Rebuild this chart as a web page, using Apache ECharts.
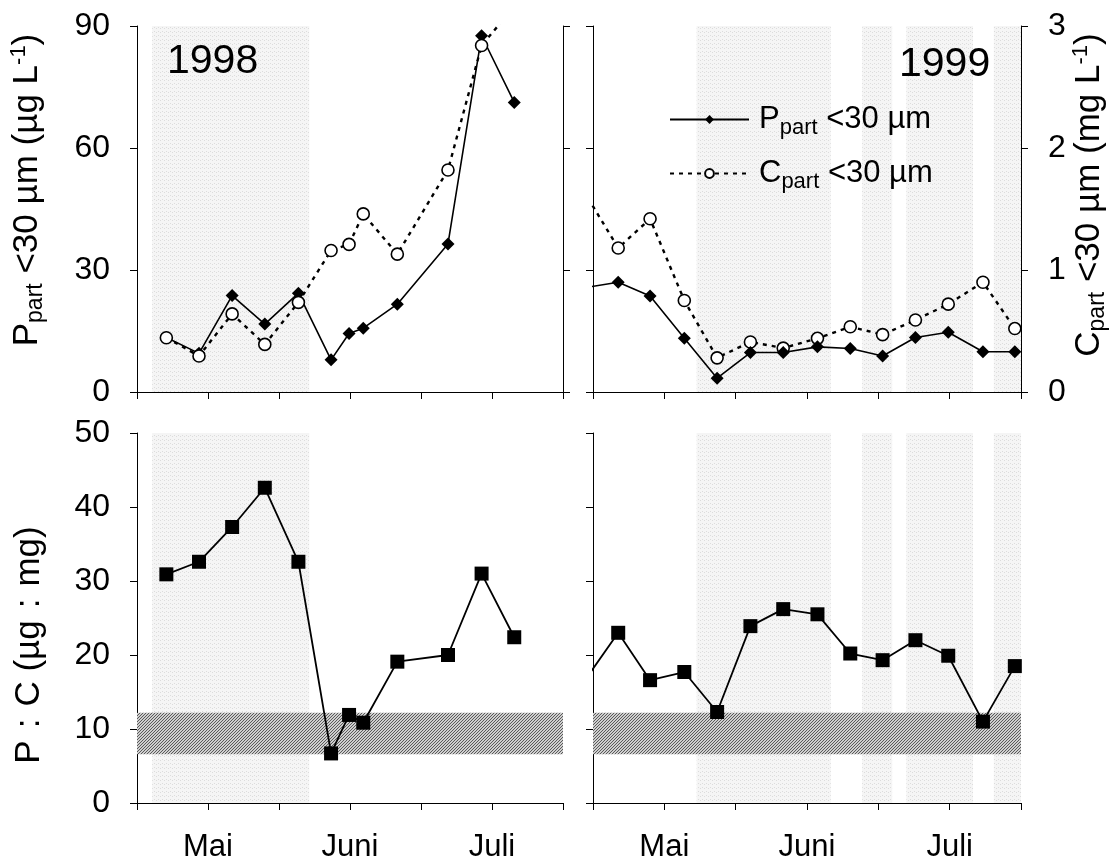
<!DOCTYPE html>
<html><head><meta charset="utf-8">
<script src="https://cdn.jsdelivr.net/npm/echarts@6/dist/echarts.min.js"></script>
<style>html,body{margin:0;padding:0;background:#fff}#c{width:1116px;height:859px}</style>
</head><body><div id="c"></div>
<script>
// ---------- data ----------
const monthLabels = ['', 'Mai', '', 'Juni', '', 'Juli', ''];   // labels at x ticks (every 15 days)
const days1998 = [6.2, 13.1, 20.1, 27.0, 34.1, 41.0, 44.8, 47.8, 55.0, 65.7, 72.8, 79.7];
const ppart1998 = [13.4, 9.5, 23.7, 16.7, 24.3, 7.9, 14.4, 15.7, 21.6, 36.4, 87.6, 71.2];
const cpart1998 = [0.445, 0.295, 0.64, 0.39, 0.735, 1.16, 1.21, 1.46, 1.13, 1.82, 2.84, 3.16];
const ratio1998 = [30.9, 32.6, 37.3, 42.6, 32.6, 6.7, 11.9, 10.85, 19.1, 20.0, 31.0, 22.4];

const days1999 = [-4, 5.3, 12.0, 19.2, 26.1, 33.1, 40.0, 47.2, 54.1, 60.9, 67.8, 74.7, 82.0, 88.7];
const ppart1999 = [25.2, 27.0, 23.6, 13.2, 3.4, 9.7, 9.7, 11.1, 10.7, 8.85, 13.4, 14.7, 9.9, 9.9];
const cpart1999 = [1.78, 1.18, 1.42, 0.75, 0.28, 0.41, 0.36, 0.44, 0.535, 0.47, 0.59, 0.72, 0.90, 0.52];
const ratio1999 = [14.5, 23.0, 16.6, 17.7, 12.3, 23.9, 26.2, 25.5, 20.2, 19.3, 22.0, 19.9, 11.0, 18.5];

const shade1998 = [[3.2, 36.4]];
const shade1999 = [[21.8, 50.0], [56.6, 62.9], [65.9, 79.9], [84.3, 90]];
const ratioBand = [6.6, 12.2];

// ---------- helpers ----------
const FONT = 'Liberation Sans, Arial, sans-serif';
function pattern(w, h, base, dark, test) {
  const c = document.createElement('canvas'); c.width = w; c.height = h;
  const g = c.getContext('2d'); g.fillStyle = base; g.fillRect(0, 0, w, h);
  g.fillStyle = dark;
  for (let x = 0; x < w; x++) for (let y = 0; y < h; y++) if (test(x, y)) g.fillRect(x, y, 1, 1);
  return { image: c, repeat: 'repeat' };
}
const lightPat = pattern(4, 4, '#f5f5f5', '#dcdcdc', (x, y) => (x + 2 * y) % 8 === 0);
const darkPat = pattern(3, 3, '#cfcfcf', '#5a5a5a', (x, y) => (x + y) % 3 === 0);

const zip = (xs, ys) => xs.map((x, i) => [x, ys[i]]);
const TF = 35;
const rich = {
  n: { fontSize: TF, fontFamily: FONT, color: '#000' },
  s: { fontSize: TF, fontFamily: FONT, color: '#000', padding: [0, 12, 0, 12] },
  sub: { fontSize: 23, fontFamily: FONT, color: '#000', padding: [17, 0, 0, 0] },
  sup: { fontSize: 22, fontFamily: FONT, color: '#000', padding: [0, 0, 17, 0] }
};
const legRich = {
  n: { fontSize: 31, fontFamily: FONT, color: '#000' },
  sub: { fontSize: 22, fontFamily: FONT, color: '#000', padding: [17, 0, 0, 0] }
};

const axisLine = { show: true, lineStyle: { color: '#000', width: 1 } };
const tick = { show: true, length: 7, lineStyle: { color: '#000', width: 1 } };
function xAx(grid, labels) {
  return {
    type: 'value', gridIndex: grid, min: 0, max: 90, interval: 15,
    axisLine, axisTick: tick, splitLine: { show: false },
    axisLabel: labels ? {
      show: true, margin: 29, fontSize: 31, fontFamily: FONT, color: '#000',
      formatter: v => monthLabels[Math.round(v / 15)] || ''
    } : { show: false }
  };
}
function yAx(grid, pos, max, interval, labels, extra) {
  return Object.assign({
    type: 'value', gridIndex: grid, position: pos, min: 0, max, interval,
    axisLine, axisTick: tick, splitLine: { show: false },
    axisLabel: labels ? { show: true, margin: 27, fontSize: 32, fontFamily: FONT, color: '#000' } : { show: false }
  }, extra || {});
}
function bandSeries(x, y, ranges) {
  return {
    type: 'line', xAxisIndex: x, yAxisIndex: y, data: [], z: 1, silent: true,
    markArea: {
      silent: true,
      itemStyle: { color: lightPat },
      data: ranges.map(r => [{ xAxis: r[0], yAxis: 'min' }, { xAxis: r[1], yAxis: 'max' }])
    }
  };
}
function darkBand(x, y) {
  return {
    type: 'line', xAxisIndex: x, yAxisIndex: y, data: [], z: 2, silent: true,
    markArea: {
      silent: true, itemStyle: { color: darkPat },
      data: [[{ xAxis: 0, yAxis: ratioBand[0] }, { xAxis: 90, yAxis: ratioBand[1] }]]
    }
  };
}
const pStyle = (name, x, y, data) => ({
  name, type: 'line', xAxisIndex: x, yAxisIndex: y, data, z: 5, clip: true,
  symbol: 'diamond', symbolSize: 13,
  itemStyle: { color: '#000' }, lineStyle: { color: '#000', width: 1.6 }
});
const cStyle = (name, x, y, data, z) => ({
  name, type: 'line', xAxisIndex: x, yAxisIndex: y, data, z, clip: true,
  symbol: 'circle', symbolSize: 12,
  itemStyle: { color: '#fff', borderColor: '#000', borderWidth: 1.6 },
  lineStyle: { color: '#000', width: 2.4, type: [4, 5] }
});
const rStyle = (name, x, y, data) => ({
  name, type: 'line', xAxisIndex: x, yAxisIndex: y, data, z: 5, clip: true,
  symbol: 'rect', symbolSize: 14,
  itemStyle: { color: '#000' }, lineStyle: { color: '#000', width: 1.8 }
});

const G = { outerBoundsMode: 'none', containLabel: false };
const option = {
  animation: false,
  backgroundColor: '#fff',
  grid: [
    Object.assign({ left: 137, top: 26, width: 426, height: 366 }, G),
    Object.assign({ left: 593, top: 26, width: 428, height: 366 }, G),
    Object.assign({ left: 137, top: 433, width: 426, height: 370 }, G),
    Object.assign({ left: 593, top: 433, width: 428, height: 370 }, G)
  ],
  xAxis: [xAx(0, false), xAx(1, false), xAx(2, true), xAx(3, true)],
  yAxis: [
    yAx(0, 'left', 90, 30, true, {
      name: '{n|P}{sub|part}{n| <30 µm (µg L}{sup|-1}{n|)}', nameLocation: 'middle', nameGap: 90,
      nameRotate: 90, nameTextStyle: { rich, padding: [0, 0, 0, 38] }
    }),
    yAx(0, 'right', 3, 1, false),
    yAx(1, 'left', 90, 30, false),
    yAx(1, 'right', 3, 1, true, {
      name: '{n|C}{sub|part}{n| <30 µm (mg L}{sup|-1}{n|)}', nameLocation: 'middle', nameGap: 48,
      nameRotate: 90, nameTextStyle: { rich, padding: [0, 0, 0, 28] }
    }),
    yAx(2, 'left', 50, 10, true, {
      name: '{n|P}{s|:}{n|C (µg}{s|:}{n|mg)}', nameLocation: 'middle', nameGap: 90,
      nameRotate: 90, nameTextStyle: { rich, padding: [0, 54, 0, 0] }
    }),
    yAx(3, 'left', 50, 10, false)
  ],
  legend: {
    data: ['P1999', 'C1999'], left: 669, top: 104, orient: 'vertical', padding: 0,
    itemWidth: 79, itemHeight: 11, itemGap: 19, selectedMode: false,
    formatter: name => name === 'P1999' ? '{n|P}{sub|part}{n| <30 µm}' : '{n|C}{sub|part}{n| <30 µm}',
    textStyle: { rich: legRich, padding: [0, 0, 0, 5] }
  },
  graphic: [
    { type: 'text', left: 167, top: 41, z: 100, style: { text: '1998', font: '41px ' + FONT, fill: '#000' } },
    { type: 'text', left: 899, top: 44, z: 100, style: { text: '1999', font: '41px ' + FONT, fill: '#000' } }
  ],
  series: [
    bandSeries(0, 0, shade1998),
    bandSeries(1, 2, shade1999),
    bandSeries(2, 4, shade1998),
    bandSeries(3, 5, shade1999),
    darkBand(2, 4),
    darkBand(3, 5),
    cStyle('C1998', 0, 1, zip(days1998, cpart1998), 6),
    pStyle('P1998', 0, 0, zip(days1998, ppart1998)),
    cStyle('C1999', 1, 3, zip(days1999, cpart1999), 4),
    pStyle('P1999', 1, 2, zip(days1999, ppart1999)),
    rStyle('R1998', 2, 4, zip(days1998, ratio1998)),
    rStyle('R1999', 3, 5, zip(days1999, ratio1999))
  ]
};
echarts.init(document.getElementById('c')).setOption(option);
</script></body></html>
